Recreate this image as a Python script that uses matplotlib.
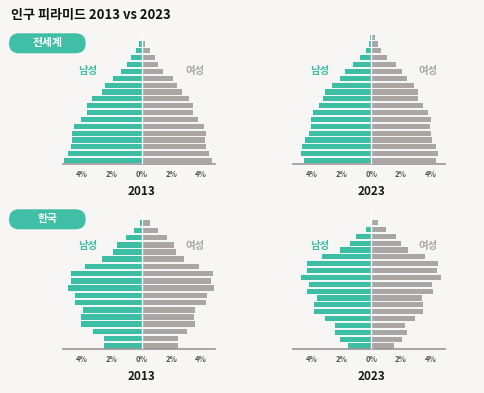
import numpy as np
import matplotlib
matplotlib.use("Agg")
from matplotlib import pyplot as plt
from matplotlib.patches import FancyBboxPatch

plt.rcParams['font.family'] = ['Noto Sans CJK KR', 'DejaVu Sans']

# data, read top (oldest) -> bottom (0-4), percent of population
world_2013_m = [0.03, 0.22, 0.47, 0.76, 1.01, 1.42, 1.96, 2.54, 2.72, 3.37,
                3.73, 3.73, 4.16, 4.61, 4.74, 4.74, 4.81, 5.03, 5.26]
world_2013_f = [0.05, 0.25, 0.56, 0.90, 1.10, 1.44, 2.09, 2.38, 2.74, 3.17,
                3.46, 3.46, 3.82, 4.22, 4.34, 4.25, 4.34, 4.54, 4.76]
world_2023_m = [0.13, 0.22, 0.42, 0.85, 1.27, 1.85, 2.17, 2.70, 3.17, 3.28,
                3.60, 3.96, 4.13, 4.13, 4.25, 4.49, 4.72, 4.80, 4.60]
world_2023_f = [0.22, 0.45, 0.65, 1.07, 1.65, 2.08, 2.37, 2.84, 3.15, 3.15,
                3.46, 3.82, 4.04, 3.93, 4.04, 4.11, 4.34, 4.47, 4.34]
korea_2013_m = [0.05, 0.20, 0.54, 1.14, 1.70, 2.01, 2.70, 3.87, 4.80, 4.80,
                4.98, 4.56, 4.56, 4.00, 4.11, 4.11, 3.31, 2.59, 2.59]
korea_2013_f = [0.12, 0.54, 1.09, 1.70, 2.15, 2.28, 2.84, 3.87, 4.80, 4.67,
                4.89, 4.42, 4.31, 3.62, 3.53, 3.62, 3.04, 2.46, 2.48]
korea_2023_m = [0.03, 0.11, 0.42, 1.07, 1.50, 2.17, 3.35, 4.36, 4.36, 4.78,
                4.22, 4.36, 3.71, 3.93, 3.93, 3.17, 2.50, 2.50, 2.17, 1.61]
korea_2023_f = [0.08, 0.45, 0.98, 1.65, 1.97, 2.50, 3.60, 4.49, 4.38, 4.69,
                4.07, 4.16, 3.42, 3.49, 3.49, 2.95, 2.28, 2.39, 2.08, 1.54]

years = ["2013", "2023"]
regions = ["전세계", "한국"]
tick_vals = [-4, -2, 0, 2, 4]
tick_labels = ["4%", "2%", "0%", "2%", "4%"]

green = '#3dbea4'
grey = '#a9a6a4'
bg = '#f7f6f4'

W, H = 484, 393
fig = plt.figure(figsize=(W / 100, H / 100), dpi=100, facecolor=bg)

# panel boxes in pixels: left, top, width, height
col_x = [63.3, 293.0]
row_box = [(33.2, 130.3), (211.8, 137.2)]
panels = [
    [(world_2013_m, world_2013_f), (world_2023_m, world_2023_f)],
    [(korea_2013_m, korea_2013_f), (korea_2023_m, korea_2023_f)],
]
lab_x = [(-3.64, 3.57), (-3.44, 3.78)]
lab_y = [0.712, 0.751]

for r in range(2):
    top, h = row_box[r]
    for c in range(2):
        ax = fig.add_axes([col_x[c] / W, 1 - (top + h) / H, 152 / W, h / H])
        ax.set_facecolor('none')
        m, f = panels[r][c]
        m = np.array(m[::-1])
        f = np.array(f[::-1])
        y = np.arange(len(m))
        ax.barh(y, -m, height=0.9, color=green, edgecolor='white', linewidth=0.6)
        ax.barh(y, f, height=0.9, color=grey, edgecolor='white', linewidth=0.6)
        ax.axvline(0, color='white', lw=1.0, zorder=3)
        ax.set_xlim(-5.25, 4.95)
        ax.set_ylim(-0.5, len(m) - 0.5)
        for s in ['top', 'left', 'right']:
            ax.spines[s].set_visible(False)
        ax.spines['bottom'].set_color('#9a9896')
        ax.spines['bottom'].set_linewidth(1.2)
        ax.set_yticks([])
        ax.set_xticks(tick_vals)
        ax.set_xticklabels(tick_labels)
        ax.tick_params(axis='x', length=0, pad=4.5, labelsize=5.5,
                       labelcolor='#555555')
        for t in ax.get_xticklabels():
            t.set_fontweight('bold')
        ax.annotate(years[c], xy=(0, 0), xycoords=('data', 'axes fraction'),
                    xytext=(0, -28), textcoords='offset pixels',
                    ha='center', va='center', fontsize=8.5, fontweight='bold',
                    color='#1a1a1a')
        tr = ax.get_xaxis_transform()
        ax.text(lab_x[c][0], lab_y[r], "남성", transform=tr, ha='center',
                va='center', fontsize=7.5, fontweight='bold', color=green)
        ax.text(lab_x[c][1], lab_y[r], "여성", transform=tr, ha='center',
                va='center', fontsize=7.5, fontweight='bold', color=grey)

# overlay in pixel coordinates for title and pills
ov = fig.add_axes([0, 0, 1, 1])
ov.set_xlim(0, W)
ov.set_ylim(H, 0)
ov.axis('off')
ov.set_facecolor('none')
ov.text(11, 14.5, "인구 피라미드 2013 vs 2023", ha='left', va='center',
        fontsize=9.4, fontweight='bold', color='#111111')
pill_top = [33.3, 209.3]
for r in range(2):
    pill = FancyBboxPatch((9, pill_top[r]), 76.7, 20,
                          boxstyle="round,pad=0,rounding_size=10",
                          facecolor='#40bfa6', edgecolor='none')
    ov.add_patch(pill)
    ov.text(47.3, pill_top[r] + 10, regions[r], ha='center', va='center',
            fontsize=7.8, fontweight='bold', color='white')

fig.savefig("out.png", dpi=100, facecolor=bg)
